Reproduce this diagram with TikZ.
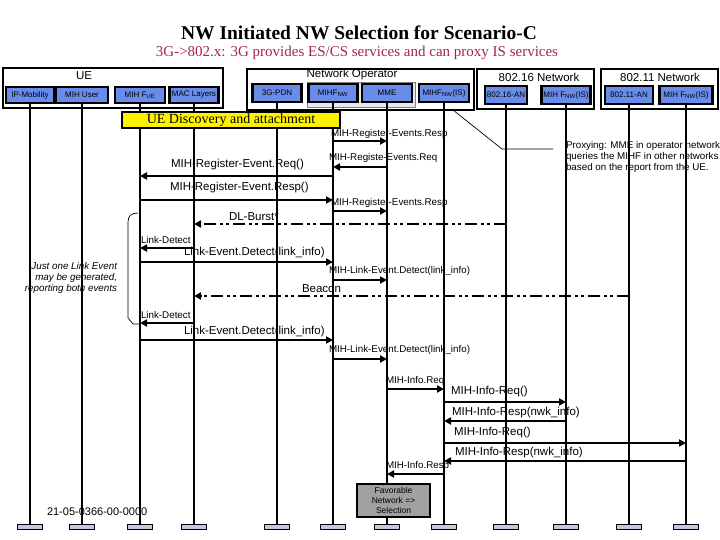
\documentclass[tikz,border=0pt]{standalone}
\usepackage{fontspec}
\setmainfont{Liberation Serif}
\setsansfont{Liberation Sans}
\usetikzlibrary{arrows.meta}
\definecolor{boxblue}{RGB}{105,140,235}
\definecolor{capfill}{RGB}{196,200,228}
\definecolor{subred}{RGB}{163,34,79}
\definecolor{favgrey}{RGB}{160,160,160}
\definecolor{grpgrey}{RGB}{232,232,232}
\newcommand{\mySz}{\fontsize{9.8}{11}\selectfont}
\newcommand{\myMz}{\fontsize{11.5}{13}\selectfont}
\begin{document}
\begin{tikzpicture}[x=1pt,y=-1pt,
 every node/.style={inner sep=0pt, outer sep=0pt},
 hbox/.style={draw, line width=2.4pt, fill=boxblue, minimum height=16pt, font=\sffamily\fontsize{8}{9}\selectfont},
 obox/.style={draw, line width=2.4pt},
 olab/.style={font=\sffamily\fontsize{11.5}{13}\selectfont},
 life/.style={line width=2.7pt},
 capbox/.style={draw, line width=1.4pt, fill=capfill, minimum width=25pt, minimum height=5pt},
 msg/.style={line width=2.7pt, -{Triangle[length=7pt,width=7pt]}},
 dmsg/.style={msg, dash pattern=on 12pt off 4pt on 3pt off 3pt on 3pt off 4pt},
 slab/.style={anchor=west, font=\sffamily\mySz},
 mlab/.style={anchor=west, font=\sffamily\myMz},
 thinline/.style={line width=0.7pt}
]
\useasboundingbox (0,0) rectangle (720,540);

% titles
\node[font=\bfseries\fontsize{19.5}{22}\selectfont] (title) at (359,33) {NW Initiated NW Selection for Scenario-C};
\node[font=\fontsize{15}{17}\selectfont, text=subred] (subtitle) at (357,53) {3G->802.x: 3G provides ES/CS services and can proxy IS services};

% outer boxes
\node[obox, minimum width=220pt, minimum height=40pt] (uebox) at (113,88) {};
\node[olab] (uelab) at (84,76) {UE};
\node[obox, minimum width=227pt, minimum height=41pt] (nobox) at (360.5,89.5) {};
\node[olab] (nolab) at (352,75) {Network Operator};
\node[draw=gray, line width=0.8pt, fill=grpgrey, minimum width=108pt, minimum height=25pt] (grp) at (361,94.5) {};
\node[obox, minimum width=117pt, minimum height=40pt] (n16box) at (535.5,89) {};
\node[olab] (n16lab) at (539,77) {802.16 Network};
\node[obox, minimum width=117pt, minimum height=40pt] (n11box) at (659.5,89) {};
\node[olab] (n11lab) at (660,77) {802.11 Network};

% entity boxes
\node[hbox, minimum width=48pt] (b1) at (30,95) {IP-Mobility};
\node[hbox, minimum width=52pt] (b2) at (82,95) {MIH User};
\node[hbox, minimum width=50pt] (b3) at (140,95) {MIH F\textsubscript{UE}};
\node[hbox, minimum width=49pt] (b4) at (194,95) {MAC Layers};
\node[hbox, minimum width=49pt, minimum height=18pt] (b5) at (277,93) {3G-PDN};
\node[hbox, minimum width=49pt, minimum height=18pt] (b6) at (333,93) {MIHF\textsubscript{NW}};
\node[hbox, minimum width=50pt, minimum height=18pt] (b7) at (387,93) {MME};
\node[hbox, minimum width=50pt, minimum height=18pt] (b8) at (444,93) {MIHF\textsubscript{NW}(IS)};
\node[hbox, minimum width=42pt, minimum height=18pt] (b9) at (506,95) {802.16-AN};
\node[hbox, minimum width=49pt, minimum height=18pt] (b10) at (566,95) {MIH F\textsubscript{NW}(IS)};
\node[hbox, minimum width=48pt, minimum height=18pt] (b11) at (629,95) {802.11-AN};
\node[hbox, minimum width=53pt, minimum height=18pt] (b12) at (686,95) {MIH F\textsubscript{NW}(IS)};

% caps
\foreach \i/\x in {1/30,2/82,3/140,4/194,5/277,6/333,7/387,8/444,9/506,10/566,11/629,12/686}{
  \node[capbox] (c\i) at (\x,527) {};
  \draw[life] (b\i.south) -- (c\i.north);
}

% banner
\node[draw, line width=1.5pt, fill=yellow, minimum width=218pt, minimum height=16pt, font=\fontsize{14}{16}\selectfont] (banner) at (231,120) {UE Discovery and attachment};

% proxying note
\coordinate (px0) at (453,110);
\coordinate (px1) at (502,149);
\coordinate (px2) at (553,149);
\draw[thinline] (px0) -- (px1) -- (px2);
\node[anchor=north west, align=left, font=\sffamily\mySz] (proxy) at (566,141) {Proxying: MME in operator network\\queries the MIHF in other networks\\based on the report from the UE.};

% messages
\node[slab] (t1) at (331,134) {MIH-Register-Events.Resp};
\draw[msg] (c6 |- 0,141) -- (c7 |- 0,141);
\node[slab] (t2) at (329,158) {MIH-Registe-Events.Req};
\draw[msg] (c7 |- 0,167) -- (c6 |- 0,167);
\node[mlab] (t3) at (171,165) {MIH-Register-Event.Req()};
\draw[msg] (c6 |- 0,176) -- (c3 |- 0,176);
\node[mlab] (t4) at (170,188) {MIH-Register-Event.Resp()};
\draw[msg] (c3 |- 0,200) -- (c6 |- 0,200);
\node[slab] (t5) at (331,203) {MIH-Register-Events.Resp};
\draw[msg] (c6 |- 0,211) -- (c7 |- 0,211);
\node[mlab] (t6) at (229,217) {DL-Burst*};
\draw[dmsg] (c9 |- 0,224) -- (c4 |- 0,224);
\node[slab] (t7) at (141,240) {Link-Detect};
\draw[msg] (c4 |- 0,248) -- (c3 |- 0,248);
\node[mlab] (t8) at (184,253) {Link-Event.Detect(link\_info)};
\draw[msg] (c3 |- 0,262) -- (c6 |- 0,262);
\node[slab] (t9) at (329,271) {MIH-Link-Event.Detect(link\_info)};
\draw[msg] (c6 |- 0,280) -- (c7 |- 0,280);
\node[mlab] (t10) at (302,289) {Beacon};
\draw[dmsg] (c11 |- 0,296) -- (c4 |- 0,296);
\node[slab] (t11) at (141,315) {Link-Detect};
\draw[msg] (c4 |- 0,323) -- (c3 |- 0,323);
\node[mlab] (t12) at (184,332) {Link-Event.Detect(link\_info)};
\draw[msg] (c3 |- 0,340) -- (c6 |- 0,340);
\node[slab] (t13) at (329,350) {MIH-Link-Event.Detect(link\_info)};
\draw[msg] (c6 |- 0,359) -- (c7 |- 0,359);
\node[slab] (t14) at (386,381) {MIH-Info.Req};
\draw[msg] (c7 |- 0,389) -- (c8 |- 0,389);
\node[mlab] (t15) at (451,392) {MIH-Info-Req()};
\draw[msg] (c8 |- 0,402) -- (c10 |- 0,402);
\node[mlab] (t16) at (452,413) {MIH-Info-Resp(nwk\_info)};
\draw[msg] (c10 |- 0,421) -- (c8 |- 0,421);
\node[mlab] (t17) at (454,433) {MIH-Info-Req()};
\draw[msg] (c8 |- 0,443) -- (c12 |- 0,443);
\node[mlab] (t18) at (455,453) {MIH-Info-Resp(nwk\_info)};
\draw[msg] (c12 |- 0,461) -- (c8 |- 0,461);
\node[slab] (t19) at (386,466) {MIH-Info.Resp};
\draw[msg] (c8 |- 0,474) -- (c7 |- 0,474);

% bracket and note
\draw[thinline] (138,213) .. controls (131,213) and (128,216) .. (128,222) -- (128,318) -- (133,324) -- (140,324);
\node[anchor=east, align=right, font=\sffamily\itshape\mySz] (note) at (117,278) {Just one Link Event\\may be generated,\\reporting both events};

% favorable box
\node[draw, line width=2pt, fill=favgrey, minimum width=73pt, minimum height=33pt, align=center, font=\sffamily\fontsize{8.5}{10}\selectfont] (fav) at (393.5,500.5) {Favorable\\Network =>\\Selection};

% doc number
\node[anchor=west, font=\sffamily\fontsize{11}{13}\selectfont] (docnum) at (47,512) {21-05-0366-00-0000};
\end{tikzpicture}
\end{document}
